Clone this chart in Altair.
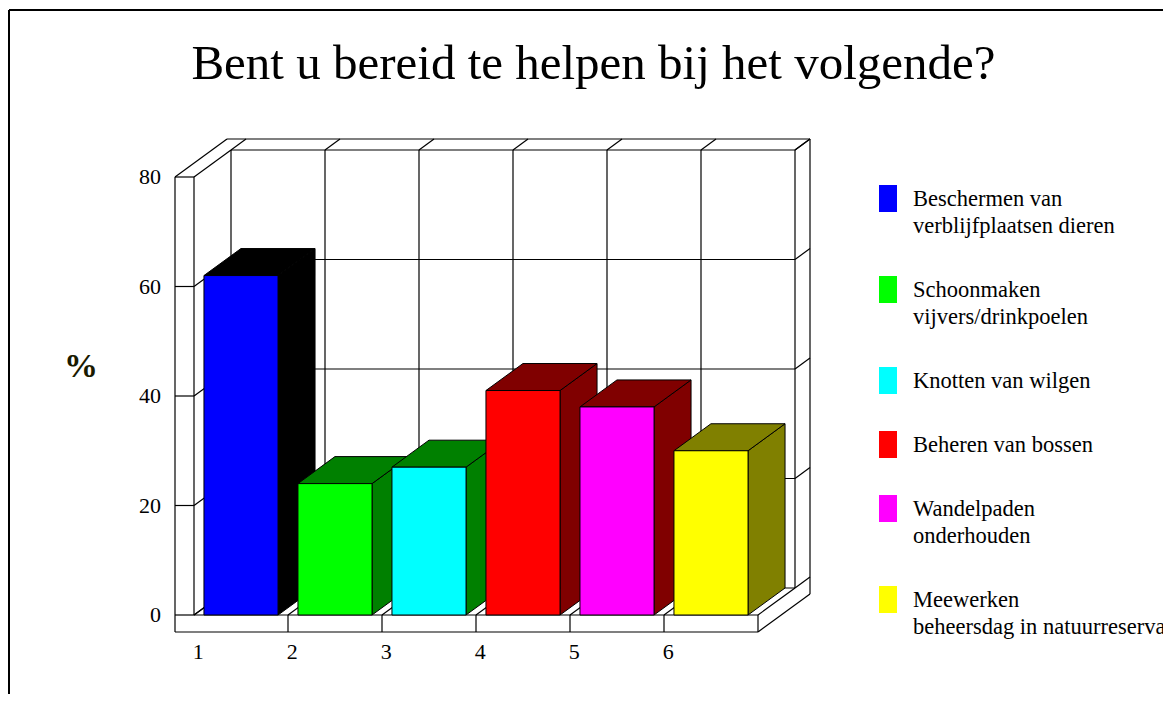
import altair as alt
import pandas as pd

# ---------------- data ----------------
categories = ["1", "2", "3", "4", "5", "6"]
values = [62, 24, 27, 41, 38, 30]
legend_lines = [
    ["Beschermen van", "verblijfplaatsen dieren"],
    ["Schoonmaken", "vijvers/drinkpoelen"],
    ["Knotten van wilgen"],
    ["Beheren van bossen"],
    ["Wandelpaden", "onderhouden"],
    ["Meewerken", "beheersdag in natuurreservaat"],
]
front_colors = ["#0000FF", "#00FF00", "#00FFFF", "#FF0000", "#FF00FF", "#FFFF00"]
shade_colors = ["#000000", "#008000", "#008000", "#800000", "#800000", "#808000"]
y_ticks = [0, 20, 40, 60, 80]
title_text = "Bent u bereid te helpen bij het volgende?"
y_title = "%"

# ---------------- layout ----------------
W, H = 1155, 686
PX0, PXU = 194.0, 94.0      # page px of x=0, px per category slot
PY0, PYU = 615.0, 5.475     # page px of value 0, px per value unit
FONT = "Liberation Serif"


def X(px):
    return (px - PX0) / PXU


def V(py):
    return (PY0 - py) / PYU


xs = alt.Scale(domain=[X(8), X(8 + W)], nice=False, zero=False)
ys = alt.Scale(domain=[V(8 + H), V(8)], nice=False, zero=False)

DX, DY = 37 / PXU, 27 / PYU          # inner depth
ODX, ODY = 52 / PXU, 38 / PYU        # outer depth (with back wall)
L = X(175)                            # left wall outer x
R = float(len(categories))            # right end of floor
B = V(632)                            # floor bottom
T = float(y_ticks[-1])
BAR0, BAR1 = 0.106, 0.894


def qx(f):
    return alt.X(f, type="quantitative", scale=xs, axis=None)


def qy(f):
    return alt.Y(f, type="quantitative", scale=ys, axis=None)


# ---------------- box lines ----------------
segs = []


def seg(x1, y1, x2, y2):
    segs.append({"x1": x1, "y1": y1, "x2": x2, "y2": y2})


n = len(categories)
# back wall grid
for k in range(n + 1):
    seg(k + DX, DY, k + DX, T + DY)
    seg(k + DX, T + DY, k + ODX, T + ODY)
for t in y_ticks:
    seg(DX, t + DY, R + DX, t + DY)
    seg(R + DX, t + DY, R + ODX, t + ODY)
    seg(0, t, DX, t + DY)
    seg(L, t, 0, t)
# floor grid
for k in range(n + 1):
    seg(k, 0, k + DX, DY)
for k in range(1, n):
    seg(k, B, k, 0)
# outlines
seg(L, B, L, T)
seg(0, 0, 0, T)
seg(L, T, L + ODX, T + ODY)
seg(L + ODX, T + ODY, R + ODX, T + ODY)
seg(R + ODX, T + ODY, R + ODX, B + ODY)
seg(R, B, R + ODX, B + ODY)
seg(L, B, R, B)
seg(0, 0, R, 0)
seg(R, B, R, 0)
seg_df = pd.DataFrame(segs)

lines = alt.Chart(seg_df).mark_rule(color="black", strokeWidth=1.2).encode(
    x=qx("x1"), x2="x2", y=qy("y1"), y2="y2"
)

# ---------------- bars ----------------
side_rows, top_rows, front_rows = [], [], []
for i, v in enumerate(values):
    x1, x2 = i + BAR0, i + BAR1
    side_rows += [
        {"bar": i, "x": x2, "y": 0, "y2": v, "c": shade_colors[i]},
        {"bar": i, "x": x2 + DX, "y": DY, "y2": v + DY, "c": shade_colors[i]},
    ]
    top_rows += [
        {"bar": i, "y": v, "x": x1, "x2": x2, "c": shade_colors[i]},
        {"bar": i, "y": v + DY, "x": x1 + DX, "x2": x2 + DX, "c": shade_colors[i]},
    ]
    front_rows.append({"bar": i, "x": x1, "x2": x2, "y": 0, "y2": v, "c": front_colors[i]})

sides = alt.Chart(pd.DataFrame(side_rows)).mark_area(
    orient="vertical", stroke="black", strokeWidth=1
).encode(
    x=qx("x"), y=qy("y"), y2="y2", detail="bar:N",
    color=alt.Color("c:N", scale=None),
)
tops = alt.Chart(pd.DataFrame(top_rows)).mark_area(
    orient="horizontal", stroke="black", strokeWidth=1
).encode(
    y=qy("y"), x=qx("x"), x2="x2", detail="bar:N",
    color=alt.Color("c:N", scale=None),
)
fronts = alt.Chart(pd.DataFrame(front_rows)).mark_rect(
    stroke="black", strokeWidth=1
).encode(
    x=qx("x"), x2="x2", y=qy("y"), y2="y2",
    color=alt.Color("c:N", scale=None),
)

# ---------------- axis labels ----------------
ytick_df = pd.DataFrame({"x": [X(161)] * len(y_ticks), "y": y_ticks,
                         "t": [str(t) for t in y_ticks]})
ylabels = alt.Chart(ytick_df).mark_text(
    align="right", baseline="middle", font=FONT, fontSize=22, color="black"
).encode(x=qx("x"), y=qy("y"), text="t:N")

xtick_df = pd.DataFrame({"x": [i + 0.045 for i in range(n)],
                         "y": [V(652)] * n, "t": categories})
xlabels = alt.Chart(xtick_df).mark_text(
    align="center", baseline="middle", font=FONT, fontSize=22, color="black"
).encode(x=qx("x"), y=qy("y"), text="t:N")

# ---------------- legend ----------------
leg_rect, leg_text = [], []
top = 185.0
for i, ls in enumerate(legend_lines):
    leg_rect.append({"x": X(879), "x2": X(897), "y": V(top + 27), "y2": V(top),
                     "c": front_colors[i]})
    for j, s in enumerate(ls):
        leg_text.append({"x": X(913), "y": V(top + 21 + 26.7 * j), "t": s})
    top += 37 + 27 * len(ls)

legend_sq = alt.Chart(pd.DataFrame(leg_rect)).mark_rect().encode(
    x=qx("x"), x2="x2", y=qy("y"), y2="y2", color=alt.Color("c:N", scale=None)
)
legend_tx = alt.Chart(pd.DataFrame(leg_text)).mark_text(
    align="left", baseline="alphabetic", font=FONT, fontSize=22.5, color="black"
).encode(x=qx("x"), y=qy("y"), text="t:N")

# ---------------- titles & frame ----------------
title = alt.Chart(pd.DataFrame({"t": [title_text]})).mark_text(
    align="center", baseline="alphabetic", font=FONT, fontSize=49, color="black"
).encode(x=alt.value(593.5 - 8), y=alt.value(79 - 8), text="t:N")

ytitle = alt.Chart(pd.DataFrame({"t": [y_title]})).mark_text(
    align="center", baseline="middle", font=FONT, fontSize=34, fontWeight="bold",
    color="#1a1a00"
).encode(x=alt.value(81 - 8), y=alt.value(367 - 8), text="t:N")

frame_l = alt.Chart(pd.DataFrame({"a": [0]})).mark_rule(color="black", strokeWidth=2).encode(
    x=alt.value(1), y=alt.value(2), y2=alt.value(H)
)
frame_t = alt.Chart(pd.DataFrame({"a": [0]})).mark_rule(color="black", strokeWidth=2).encode(
    x=alt.value(1), x2=alt.value(W), y=alt.value(2)
)

chart = alt.layer(
    lines, sides, tops, fronts, ylabels, xlabels, legend_sq, legend_tx,
    title, ytitle, frame_l, frame_t
).properties(
    width=W, height=H, autosize=alt.AutoSizeParams(type="none"), padding=0,
    background="white"
).configure_view(strokeWidth=0)

chart.save("out.html", embed_options={"renderer": "svg", "actions": False})
